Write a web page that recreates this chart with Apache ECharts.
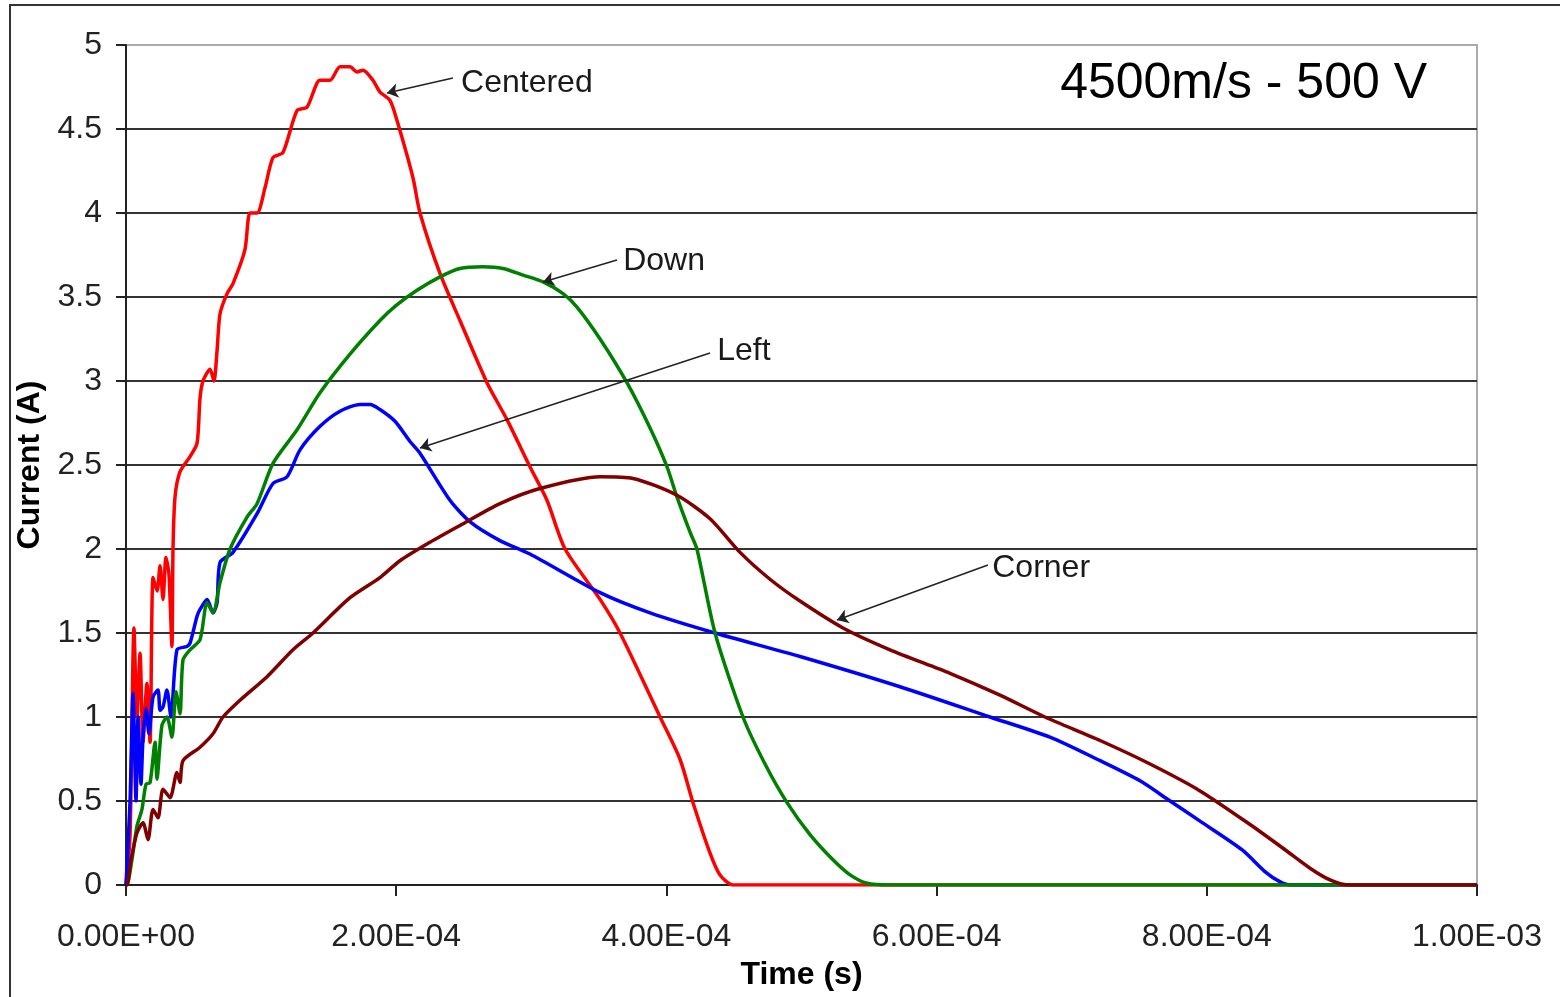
<!DOCTYPE html>
<html>
<head>
<meta charset="utf-8">
<title>4500m/s - 500 V</title>
<script src="https://cdn.jsdelivr.net/npm/echarts@6/dist/echarts.min.js"></script>
<style>
  html, body { margin: 0; padding: 0; background: #fff; }
  #chart { width: 1560px; height: 997px; }
</style>
</head>
<body>
<div id="chart"></div>
<script>
// time in microseconds, current in A
var centeredT = [0, 3, 5.9, 8.1, 10.4, 12.6, 15.5, 17.8, 20, 23, 25.2, 27.4, 29.6, 31.8, 34, 34.8, 36.3, 40, 47.4, 52.6, 54.8, 57, 62.2, 65.1, 67.4, 69.6, 74.8, 79.2, 88, 91.8, 97, 102.9, 108.8, 116.2, 126.6, 134, 143.6, 151, 158.4, 165.8, 171, 175.4, 182.8, 188, 195.4, 200.6, 212.4, 217.6, 232.4, 247.2, 267.2, 282, 299, 311.6, 325, 350.9, 365.7, 395.3, 410, 419.7, 432.3, 439.7, 449.3, 1000];
var centeredI = [0, 0.3, 1.53, 1.0, 1.38, 0.85, 1.2, 0.85, 1.83, 1.75, 1.9, 1.7, 1.95, 1.85, 1.42, 2.0, 2.31, 2.46, 2.55, 2.63, 2.9, 3.0, 3.07, 3.0, 3.18, 3.40, 3.52, 3.58, 3.78, 4.0, 4.0, 4.15, 4.33, 4.36, 4.61, 4.63, 4.79, 4.79, 4.87, 4.87, 4.84, 4.85, 4.79, 4.72, 4.67, 4.55, 4.21, 4.0, 3.64, 3.36, 2.99, 2.77, 2.49, 2.29, 2.0, 1.70, 1.5, 1.0, 0.75, 0.49, 0.19, 0.06, 0, 0];

var leftT = [0, 3, 5.2, 7.4, 8.9, 11.1, 12.6, 14.8, 17, 20, 23.7, 25.2, 27.4, 30.3, 33.3, 37.7, 45.1, 47.4, 52.6, 54.8, 60, 64.4, 67.4, 69.6, 79.2, 97, 108.8, 119.2, 128.8, 143.6, 158.4, 173.2, 180.6, 188, 199.1, 210.2, 217.6, 239.8, 255, 276.8, 299, 350.9, 387.9, 436, 498.9, 572.9, 639.5, 683.9, 721, 750.6, 772.8, 795, 826, 843, 854, 861.6, 1000];
var leftI = [0, 0.5, 1.14, 0.5, 1.0, 0.6, 0.88, 1.05, 0.9, 1.12, 1.16, 1.04, 1.06, 1.16, 1.0, 1.4, 1.42, 1.44, 1.6, 1.64, 1.70, 1.62, 1.68, 1.92, 1.98, 2.21, 2.39, 2.43, 2.59, 2.73, 2.82, 2.86, 2.86, 2.83, 2.76, 2.64, 2.57, 2.29, 2.16, 2.05, 1.97, 1.74, 1.62, 1.5, 1.36, 1.18, 1.0, 0.88, 0.74, 0.62, 0.5, 0.38, 0.21, 0.08, 0.02, 0, 0];

var downT = [0, 0.7, 4.4, 8.1, 11.8, 14.8, 17.8, 21.5, 22.9, 26.6, 30.3, 34, 37, 40, 42.2, 47.4, 54.8, 60, 64.4, 69.6, 77, 89.6, 97, 108.8, 126.6, 143.6, 165.8, 188, 200, 215.4, 232.4, 247.2, 264.2, 279, 293.9, 308.7, 323.5, 333.8, 350.9, 370.8, 387.9, 400.4, 407.8, 417.5, 422.6, 436, 456.7, 473, 489.3, 506.3, 523.3, 536, 548.5, 565.5, 1000];
var downI = [0, 0, 0.15, 0.35, 0.45, 0.6, 0.61, 0.85, 0.63, 0.95, 1.0, 0.88, 1.15, 1.02, 1.34, 1.4, 1.46, 1.68, 1.62, 1.8, 2.0, 2.19, 2.27, 2.51, 2.71, 2.93, 3.16, 3.36, 3.45, 3.54, 3.62, 3.67, 3.68, 3.67, 3.63, 3.59, 3.52, 3.44, 3.25, 2.99, 2.72, 2.49, 2.31, 2.1, 2.0, 1.5, 1.0, 0.72, 0.49, 0.3, 0.15, 0.06, 0.01, 0, 0];

var cornerT = [0, 0.7, 3.7, 8.1, 12.6, 16.3, 20, 23.7, 27.4, 32.6, 37.7, 40, 42.2, 54.8, 64.4, 71.8, 84.4, 104.4, 123.6, 138.4, 165.8, 188, 202.8, 225, 247.2, 276.8, 306.4, 350.9, 375.3, 407.8, 432.3, 454.5, 476.7, 498.9, 530.7, 565.5, 609.9, 646.9, 680.2, 721, 758, 795, 832, 857.9, 876.4, 891.2, 904.5, 1000];
var cornerI = [0, 0, 0.15, 0.31, 0.37, 0.27, 0.45, 0.4, 0.57, 0.52, 0.67, 0.61, 0.74, 0.82, 0.9, 1.0, 1.1, 1.24, 1.4, 1.5, 1.71, 1.83, 1.93, 2.04, 2.14, 2.27, 2.36, 2.43, 2.42, 2.32, 2.18, 1.98, 1.82, 1.69, 1.53, 1.4, 1.26, 1.13, 1.0, 0.86, 0.72, 0.56, 0.36, 0.21, 0.1, 0.03, 0, 0];

var xTicks = [0, 0.0002, 0.0004, 0.0006, 0.0008, 0.001];

// annotations: label, text anchor [us, A], arrow start [us, A], arrow tip [us, A]
var noteLabels = ['Centered', 'Down', 'Left', 'Corner'];
var noteText = [[248, 4.775], [368, 3.714], [437.6, 3.178], [641.2, 1.887]];
var noteFrom = [[242, 4.804], [363.4, 3.72], [432.3, 3.167], [638, 1.905]];
var noteTo = [[193.2, 4.714], [308.7, 3.589], [217.6, 2.601], [526.3, 1.577]];

var FONT = '"Liberation Sans", Arial, sans-serif';

function pairs(ts, is) {
  return ts.map(function (t, k) { return [t * 1e-6, is[k]]; });
}

// Excel style scientific labels: 2.00E-04
function sciLabel(v) {
  var s = Number(v).toExponential(2).toUpperCase();
  var m = s.match(/^(.*)E([+-])(\d+)$/);
  var e = m[3].length < 2 ? '0' + m[3] : m[3];
  return m[1] + 'E' + m[2] + e;
}

function arrow(k) {
  return {
    silent: true,
    symbol: ['none', 'arrow'],
    symbolSize: 11,
    label: { show: false },
    lineStyle: { color: '#222', width: 1.5, type: 'solid' },
    data: [[
      { coord: [noteFrom[k][0] * 1e-6, noteFrom[k][1]] },
      { coord: [noteTo[k][0] * 1e-6, noteTo[k][1]] }
    ]]
  };
}

function lineSeries(name, data, color, k) {
  return {
    name: name,
    type: 'line',
    data: data,
    showSymbol: false,
    smooth: 0.25,
    lineStyle: { color: color, width: 3.5 },
    itemStyle: { color: color },
    markLine: arrow(k)
  };
}

var gridColors = ['#333', '#333', '#333', '#333', '#333', '#333', '#333', '#333', '#333', '#333', '#aaa'];

var chart = echarts.init(document.getElementById('chart'));
chart.setOption({
  animation: false,
  backgroundColor: '#fff',
  textStyle: { fontFamily: FONT },
  title: {
    text: '4500m/s - 500 V',
    right: 128,
    top: 54,
    textStyle: { fontFamily: FONT, fontSize: 50, fontWeight: 'normal', color: '#000' }
  },
  grid: {
    left: 126, right: 83, top: 45, bottom: 112,
    show: true, borderColor: '#aaa', borderWidth: 2
  },
  xAxis: {
    type: 'value',
    min: 0,
    max: 0.001,
    interval: 0.0002,
    name: 'Time (s)',
    nameLocation: 'middle',
    nameGap: 74,
    nameTextStyle: { fontFamily: FONT, fontSize: 32, fontWeight: 'bold', color: '#000' },
    axisLine: { lineStyle: { color: '#222', width: 2 } },
    axisTick: { show: true, inside: false, length: 11, lineStyle: { color: '#222', width: 2 } },
    axisLabel: { margin: 36, fontSize: 32, color: '#222', fontFamily: FONT, formatter: sciLabel },
    splitLine: { show: false }
  },
  yAxis: {
    type: 'value',
    min: 0,
    max: 5,
    interval: 0.5,
    name: 'Current (A)',
    nameLocation: 'middle',
    nameGap: 70,
    nameRotate: 90,
    nameTextStyle: { fontFamily: FONT, fontSize: 32, fontWeight: 'bold', color: '#000' },
    axisLine: { show: true, lineStyle: { color: '#222', width: 2 } },
    axisTick: { show: true, inside: false, length: 10, lineStyle: { color: '#222', width: 2 } },
    axisLabel: { margin: 24, fontSize: 32, color: '#222', fontFamily: FONT },
    splitLine: { show: true, lineStyle: { color: gridColors, width: 2 } }
  },
  series: [
    lineSeries('Centered', pairs(centeredT, centeredI), '#ff0000', 0),
    lineSeries('Left', pairs(leftT, leftI), '#0000ff', 2),
    lineSeries('Down', pairs(downT, downI), '#008000', 1),
    lineSeries('Corner', pairs(cornerT, cornerI), '#800000', 3)
  ]
});

// outer frame plus annotation texts placed from data coordinates
var graphics = [{
  type: 'rect',
  shape: { x: 10, y: 5, width: 1600, height: 1100 },
  style: { fill: 'none', stroke: '#333', lineWidth: 2 },
  silent: true
}];
noteLabels.forEach(function (txt, k) {
  var p = chart.convertToPixel({ gridIndex: 0 }, [noteText[k][0] * 1e-6, noteText[k][1]]);
  graphics.push({
    type: 'text',
    x: p[0],
    y: p[1],
    style: { text: txt, fill: '#1a1a1a', font: '32px ' + FONT, textAlign: 'left', textVerticalAlign: 'middle' },
    silent: true
  });
});
chart.setOption({ graphic: graphics });

window.addEventListener('resize', function () { chart.resize(); });
</script>
</body>
</html>
